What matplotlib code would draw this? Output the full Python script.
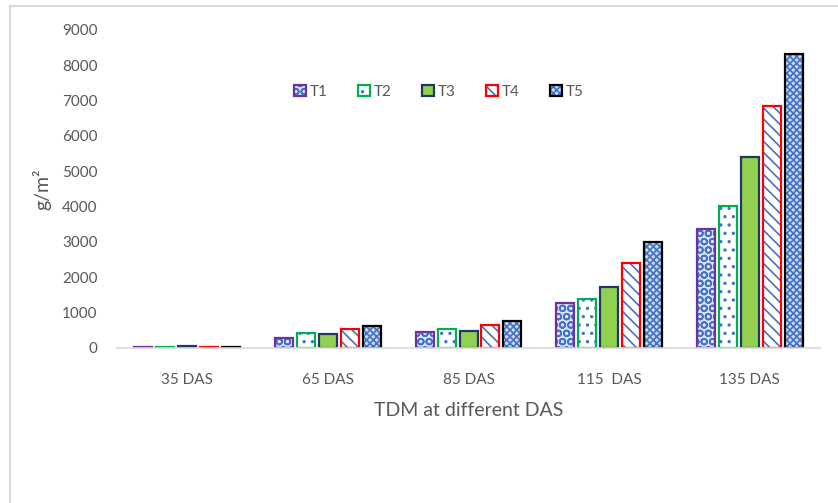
import numpy as np
import matplotlib
matplotlib.use("Agg")
import matplotlib.pyplot as plt
from matplotlib.legend_handler import HandlerTuple
from matplotlib.lines import Line2D

plt.rcParams['font.family'] = ['Lato', 'DejaVu Sans']
plt.rcParams['hatch.linewidth'] = 1.2

# data
stages = ['35 DAS', '65 DAS', '85 DAS', '115  DAS', '135 DAS']
series = ['T1', 'T2', 'T3', 'T4', 'T5']
t1 = [30, 290, 450, 1280, 3380]
t2 = [35, 420, 540, 1400, 4030]
t3 = [60, 390, 470, 1720, 5400]
t4 = [35, 540, 640, 2400, 6850]
t5 = [30, 610, 760, 2990, 8330]
values = [t1, t2, t3, t4, t5]

edges = ['#7030A0', '#00B050', '#1F3864', '#FF0000', '#000000']
fills = ['#dbe5f5', 'white', '#92D050', 'white', '#c9d8f0']
hatches = ['OO', '..', None, '\\\\\\', 'xxxxx']
hcol = '#4472C4'
grey = '#595959'

fig = plt.figure(figsize=(8.38, 5.03), dpi=100)
ax = fig.add_axes([0.1396, 0.3082, 0.839, 0.6322])

x = np.arange(len(stages))
pitch = 0.156
w = 0.128
handles = []
for i, (name, vals) in enumerate(zip(series, values)):
    pos = x + (i - 2) * pitch
    if hatches[i]:
        b1 = ax.bar(pos, vals, w, color=fills[i], edgecolor=hcol, hatch=hatches[i], linewidth=0)
    else:
        b1 = ax.bar(pos, vals, w, color=fills[i], linewidth=0)
    b2 = ax.bar(pos, vals, w, fill=False, edgecolor=edges[i], linewidth=1.6)
    handles.append((b1[0], b2[0]))

ax.set_xlim(-0.5, 4.5)
ax.set_ylim(0, 9000)
ax.set_yticks(range(0, 9001, 1000))
ax.set_xticks(x)
ax.set_xticklabels(stages)
for s in ['top', 'right', 'left']:
    ax.spines[s].set_visible(False)
ax.spines['bottom'].set_color('#d9d9d9')
ax.spines['bottom'].set_linewidth(1.2)
ax.tick_params(axis='both', length=0, colors=grey, labelsize=11)
ax.tick_params(axis='x', pad=18)
ax.tick_params(axis='y', pad=14)
ax.set_xlabel('TDM at different DAS', fontsize=14, color=grey, labelpad=11)
ax.set_ylabel('g/m²', fontsize=14, color=grey, labelpad=8)

leg = fig.legend(handles, series, handler_map={tuple: HandlerTuple(ndivide=1, pad=0)},
                 loc='center', bbox_to_anchor=(0.524, 0.818), ncol=5, frameon=False,
                 fontsize=11, handlelength=0.75, handleheight=0.75, handletextpad=0.3,
                 columnspacing=1.97, labelcolor=grey)

# light frame like the original chart area
fig.add_artist(Line2D([10 / 838, 10 / 838], [0, 1 - 6 / 503], transform=fig.transFigure,
                      color='#d9d9d9', linewidth=1.5))
fig.add_artist(Line2D([10 / 838, 1], [1 - 6 / 503, 1 - 6 / 503], transform=fig.transFigure,
                      color='#d9d9d9', linewidth=1.5))

fig.savefig('out.png', dpi=100)
